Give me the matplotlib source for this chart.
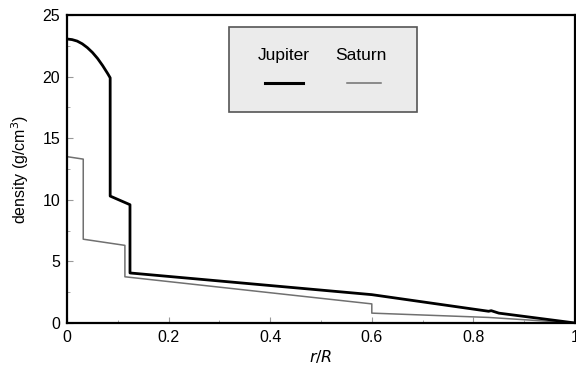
import matplotlib.pyplot as plt
from matplotlib.lines import Line2D
from matplotlib.patches import Rectangle

plt.rcParams['font.family'] = ['Liberation Sans', 'DejaVu Sans']

# Jupiter density profile (r/R, g/cm^3)
jup_r = [0.0, 0.01, 0.02, 0.03, 0.04, 0.05, 0.06, 0.07, 0.08, 0.085,
         0.085, 0.124, 0.124, 0.6, 0.83, 0.835, 0.85, 1.0]
jup_rho = [23.05, 23.0, 22.88, 22.66, 22.35, 21.96, 21.48, 20.9, 20.25, 19.9,
           10.3, 9.6, 4.06, 2.3, 0.95, 1.0, 0.8, 0.0]

# Saturn density profile
sat_r = [0.0, 0.032, 0.032, 0.114, 0.114, 0.6, 0.6, 0.83, 1.0]
sat_rho = [13.5, 13.3, 6.8, 6.3, 3.75, 1.55, 0.8, 0.45, 0.0]

xticks = [0, 0.2, 0.4, 0.6, 0.8, 1]
xticklabels = ['0', '0.2', '0.4', '0.6', '0.8', '1']
yticks = [0, 5, 10, 15, 20, 25]

fig = plt.figure(figsize=(5.76, 3.74), dpi=100)
ax = fig.add_axes([0.1163, 0.1364, 0.882, 0.8236])

ax.plot(sat_r, sat_rho, color='#707070', linewidth=1.1)
ax.plot(jup_r, jup_rho, color='black', linewidth=2)

ax.set_xlim(0, 1)
ax.set_ylim(0, 25)
ax.set_xticks(xticks)
ax.set_xticklabels(xticklabels)
ax.set_yticks(yticks)
ax.set_yticks([2.5, 7.5, 12.5, 17.5, 22.5], minor=True)
ax.set_xticks([0.1, 0.3, 0.5, 0.7, 0.9], minor=True)
ax.tick_params(which='both', direction='in', color='#999999', labelsize=11.5, pad=5)
ax.tick_params(which='major', length=4)
ax.tick_params(which='minor', length=2)
for s in ax.spines.values():
    s.set_linewidth(1.6)

ax.set_xlabel('$r/R$', fontsize=11.5, labelpad=2)
ax.set_ylabel('density (g/cm$^3$)', fontsize=11.5, labelpad=8)

# legend drawn by hand: labels above the line samples
ax.add_patch(Rectangle((0.319, 0.685), 0.37, 0.276, transform=ax.transAxes,
                       facecolor='#ebebeb', edgecolor='#555555', linewidth=1.2, zorder=5))
ax.text(0.426, 0.87, 'Jupiter', transform=ax.transAxes, ha='center', va='center',
        fontsize=12.5, zorder=6)
ax.text(0.579, 0.87, 'Saturn', transform=ax.transAxes, ha='center', va='center',
        fontsize=12.5, zorder=6)
ax.add_line(Line2D([0.39, 0.465], [0.78, 0.78], transform=ax.transAxes,
                   color='black', linewidth=2.2, zorder=6))
ax.add_line(Line2D([0.551, 0.618], [0.78, 0.78], transform=ax.transAxes,
                   color='#707070', linewidth=1.1, zorder=6))

fig.savefig('out.png', dpi=100)
